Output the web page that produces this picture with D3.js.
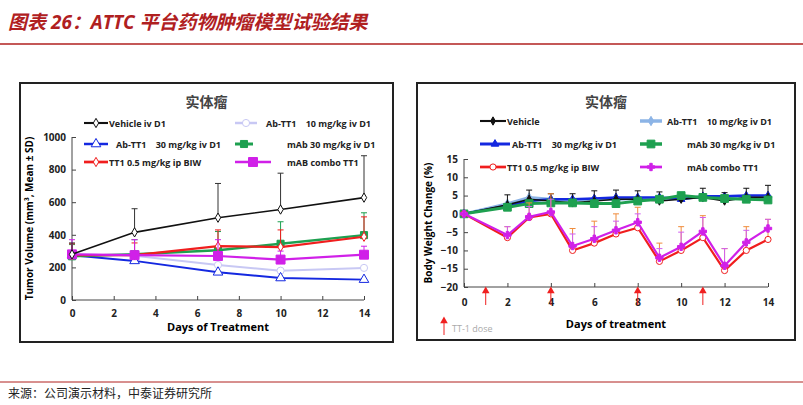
<!DOCTYPE html>
<html><head><meta charset="utf-8">
<script src="https://cdn.jsdelivr.net/npm/d3@7"></script>
<style>body{margin:0;background:#fff}text{font-family:"Open Sans","Noto Sans CJK SC",sans-serif}</style>
</head><body><svg id="c" width="803" height="405"></svg>
<script>
// left panel: tumor volume
var volDays = [0, 3, 7, 10, 14];
var volVehicle = [280, 415, 505, 555, 628], volVehicleErr = [350, 560, 715, 778, 885];
var volAb10 = [280, 272, 215, 180, 197];
var volAb30 = [275, 240, 170, 135, 125];
var volMab30 = [268, 280, 305, 345, 398], volMab30Err = [340, 370, 420, 480, 535];
var volTT1 = [275, 275, 330, 325, 388], volTT1Err = [345, 350, 430, 430, 510];
var volCombo = [280, 275, 270, 248, 278], volComboErr = [370, 370, 370, 300, 330];

// right panel: body weight
var bwDays = [0, 2, 3, 4, 5, 6, 7, 8, 9, 10, 11, 12, 13, 14];
var bwVehicle = [0, 2.5, 4, 3.5, 3, 3.5, 4, 4, 3.5, 4, 4.5, 3.5, 4.5, 4.5];
var bwAb10 = [0, 2.8, 4.5, 4, 3.8, 4, 4, 4.2, 4.3, 4.5, 4.5, 4.5, 4.5, 4.5];
var bwAb30 = [0, 2.2, 3.5, 4, 4, 4.2, 4.5, 4.5, 4.5, 4, 4.8, 4.8, 5, 5];
var bwMab30 = [0, 1.8, 2.8, 3, 3, 2.8, 2.8, 3.5, 4, 5, 4.5, 4.2, 4, 3.8];
var bwTT1 = [0, -6.5, -1, 0, -10, -8, -5.5, -3.8, -13, -10, -6.5, -15.5, -10, -7];
var bwTT1Err = [0, -3.5, 3, 5.5, -4, -2, 0, 1.8, -8, -3.5, -0.5, -9.5, -3.5, -1.5];
var bwCombo = [0, -5.8, -0.8, 0.5, -8.8, -6.8, -4.5, -2.3, -12, -9, -4.8, -14.2, -7.8, -4];
var bwComboErr = [0, -3.5, 2, 4, -5.5, -3.5, -2, 0, -9.5, -5, -1, -9.5, -4.5, -1.5];
var bwVehErr = [0, 5.2, 6.5, 5.5, 5.5, 6.3, 6.5, 6.3, 6, 5, 7, 5.8, 7, 7.8];
var doseDays = [1, 4, 8, 11];

var svg = d3.select("#c");

// header / footer
svg.append("text").attr("x", 8).attr("y", 29).attr("fill", "#b0201f")
  .attr("font-size", 19).attr("font-weight", "bold").attr("font-style", "italic")
  .text("图表 26：ATTC 平台药物肿瘤模型试验结果");
svg.append("line").attr("x1", 0).attr("x2", 803).attr("y1", 44).attr("y2", 44).attr("stroke", "#b0201f").attr("stroke-width", 1.5);
svg.append("line").attr("x1", 0).attr("x2", 803).attr("y1", 382).attr("y2", 382).attr("stroke", "#b0201f").attr("stroke-width", 1);
svg.append("text").attr("x", 8).attr("y", 398).attr("font-size", 12).attr("fill", "#222")
  .text("来源：公司演示材料，中泰证券研究所");

function panel(o) {
  var g = svg.append("g");
  g.append("rect").attr("x", o.box[0]).attr("y", o.box[1]).attr("width", o.box[2]).attr("height", o.box[3])
    .attr("fill", "#fff").attr("stroke", "#222").attr("stroke-width", 2);
  g.append("text").attr("x", o.box[0] + o.box[2] / 2).attr("y", o.box[1] + 24).attr("text-anchor", "middle")
    .attr("font-size", 14).attr("font-weight", "bold").attr("fill", "#444").text("实体瘤");
  var x = d3.scaleLinear().domain([0, 14]).range(o.xr);
  var y = d3.scaleLinear().domain(o.yd).range(o.yr);
  var ax = g.append("g").attr("transform", "translate(0," + o.yr[0] + ")")
    .call(d3.axisBottom(x).tickValues(d3.range(0, 15, 2)).tickSize(-4).tickPadding(o.xpad));
  var ay = g.append("g").attr("transform", "translate(" + o.xr[0] + ",0)")
    .call(d3.axisLeft(y).tickValues(o.yt).tickFormat(d3.format("d")).tickSize(-4).tickPadding(6));
  [ax, ay].forEach(function (a) {
    a.selectAll("text").attr("font-size", 10).attr("font-weight", "bold").attr("fill", "#222");
    a.select(".domain").attr("stroke", "#444");
    a.selectAll(".tick line").attr("stroke", "#444");
  });
  ay.select(".domain").attr("d", "M0," + o.yr[0] + "V" + o.yr[1]);
  ax.select(".domain").attr("d", "M" + o.xr[0] + ",0H" + o.xr[1]);
  g.append("text").attr("x", (o.xr[0] + o.xr[1]) / 2).attr("y", o.xlabY).attr("text-anchor", "middle")
    .attr("font-size", 11).attr("font-weight", "bold").text(o.xlab);
  g.append("text").attr("transform", "translate(" + o.ylabX + "," + (o.yr[0] + o.yr[1]) / 2 + ") rotate(-90)")
    .attr("text-anchor", "middle").attr("font-size", 10).attr("font-weight", "bold").text(o.ylab);

  o.series.forEach(function (s) {
    var pts = s.days.map(function (d, i) { return [x(d), y(s.v[i])]; });
    if (s.err) s.days.forEach(function (d, i) {
      if (s.err[i] === s.v[i]) return;
      g.append("line").attr("x1", x(d)).attr("x2", x(d)).attr("y1", y(s.v[i])).attr("y2", y(s.err[i]))
        .attr("stroke", s.ec || s.c).attr("stroke-width", 1);
      g.append("line").attr("x1", x(d) - 3).attr("x2", x(d) + 3).attr("y1", y(s.err[i])).attr("y2", y(s.err[i]))
        .attr("stroke", s.ec || s.c).attr("stroke-width", 1);
    });
    g.append("path").attr("d", d3.line()(pts)).attr("fill", "none").attr("stroke", s.c).attr("stroke-width", s.w);
    var sym = d3.symbol().type(s.m).size(s.ms);
    pts.forEach(function (p) {
      g.append("path").attr("d", sym()).attr("transform", "translate(" + p + ")")
        .attr("fill", s.hollow ? "#fff" : s.c).attr("stroke", s.c).attr("stroke-width", 1);
    });
    // legend entry
    g.append("line").attr("x1", s.lx).attr("x2", s.lx + s.ll).attr("y1", s.ly).attr("y2", s.ly)
      .attr("stroke", s.c).attr("stroke-width", s.w + 0.5);
    g.append("path").attr("d", sym()).attr("transform", "translate(" + (s.lx + s.ll / 2) + "," + s.ly + ")")
      .attr("fill", s.hollow ? "#fff" : s.c).attr("stroke", s.c);
    g.append("text").attr("x", s.tx).attr("y", s.ly + 3.5).attr("font-size", 9).attr("font-weight", "bold")
      .attr("fill", "#222").attr("xml:space", "preserve").text(s.name);
  });
  return {x: x, y: y, g: g};
}

panel({
  box: [20, 83, 373, 259], xr: [72, 364], yr: [300, 137], yd: [0, 1000], yt: d3.range(0, 1001, 200),
  xpad: 10, xlab: "Days of Treatment", xlabY: 331, ylab: "Tumor Volume (mm³, Mean ± SD)", ylabX: 33,
  series: [
    {name: "Ab-TT1    10 mg/kg iv D1", days: volDays, v: volAb10, c: "#c8c8f4", w: 2, m: d3.symbolCircle, ms: 40, hollow: true, lx: 235, ll: 22, ly: 123, tx: 266},
    {name: "Ab-TT1    30 mg/kg iv D1", days: volDays, v: volAb30, c: "#1428e0", w: 2, m: d3.symbolTriangle, ms: 40, hollow: true, lx: 84, ll: 24, ly: 144, tx: 116},
    {name: "mAb 30 mg/kg iv D1", days: volDays, v: volMab30, err: volMab30Err, c: "#1ea050", w: 2.5, m: d3.symbolSquare, ms: 50, lx: 235, ll: 18, ly: 144, tx: 287},
    {name: "TT1 0.5 mg/kg ip BIW", days: volDays, v: volTT1, err: volTT1Err, c: "#f01e1e", w: 2.2, m: d3.symbolDiamond, ms: 25, hollow: true, lx: 84, ll: 24, ly: 162, tx: 109},
    {name: "mAB combo TT1", days: volDays, v: volCombo, err: volComboErr, c: "#d020e8", w: 2.2, m: d3.symbolSquare, ms: 80, lx: 235, ll: 36, ly: 162, tx: 287},
    {name: "Vehicle iv D1", days: volDays, v: volVehicle, err: volVehicleErr, c: "#111", ec: "#333", w: 1.6, m: d3.symbolDiamond, ms: 25, hollow: true, lx: 84, ll: 24, ly: 123, tx: 109}
  ]
});

var r = panel({
  box: [417, 83, 378, 257], xr: [464, 768], yr: [287, 159], yd: [-20, 15], yt: d3.range(-20, 16, 5),
  xpad: 12, xlab: "Days of treatment", xlabY: 328, ylab: "Body Weight Change (%)", ylabX: 432,
  series: [
    {name: "Ab-TT1    10 mg/kg iv D1", days: bwDays, v: bwAb10, c: "#8cb4e6", w: 3, m: d3.symbolDiamond, ms: 25, lx: 640, ll: 22, ly: 121, tx: 667},
    {name: "Ab-TT1    30 mg/kg iv D1", days: bwDays, v: bwAb30, c: "#1428e0", w: 2.5, m: d3.symbolTriangle, ms: 25, lx: 480, ll: 30, ly: 144, tx: 512},
    {name: "Vehicle", days: bwDays, v: bwVehicle, err: bwVehErr, c: "#111", w: 1.6, m: d3.symbolDiamond, ms: 20, lx: 480, ll: 26, ly: 121, tx: 507},
    {name: "mAb 30 mg/kg iv D1", days: bwDays, v: bwMab30, c: "#1ea050", w: 3, m: d3.symbolSquare, ms: 60, lx: 640, ll: 22, ly: 144, tx: 687},
    {name: "TT1 0.5 mg/kg ip BIW", days: bwDays, v: bwTT1, err: bwTT1Err, ec: "#f08c3c", c: "#f01e1e", w: 2.2, m: d3.symbolCircle, ms: 30, hollow: true, lx: 480, ll: 26, ly: 167, tx: 507},
    {name: "mAb combo TT1", days: bwDays, v: bwCombo, err: bwComboErr, ec: "#d060f0", c: "#d020e8", w: 2.2, m: d3.symbolCross, ms: 30, lx: 640, ll: 22, ly: 167, tx: 687}
  ]
});
doseDays.forEach(function (d) {
  r.g.append("line").attr("x1", r.x(d)).attr("x2", r.x(d)).attr("y1", 305).attr("y2", 290).attr("stroke", "#f02020").attr("stroke-width", 1);
  r.g.append("path").attr("d", d3.symbol().type(d3.symbolTriangle).size(25)()).attr("transform", "translate(" + r.x(d) + ",291)").attr("fill", "#f02020");
});
r.g.append("line").attr("x1", 444).attr("x2", 444).attr("y1", 335).attr("y2", 320).attr("stroke", "#f02020");
r.g.append("path").attr("d", d3.symbol().type(d3.symbolTriangle).size(25)()).attr("transform", "translate(444,321)").attr("fill", "#f02020");
r.g.append("text").attr("x", 452).attr("y", 332).attr("font-size", 9).attr("fill", "#aaa").text("TT-1 dose");
</script></body></html>
